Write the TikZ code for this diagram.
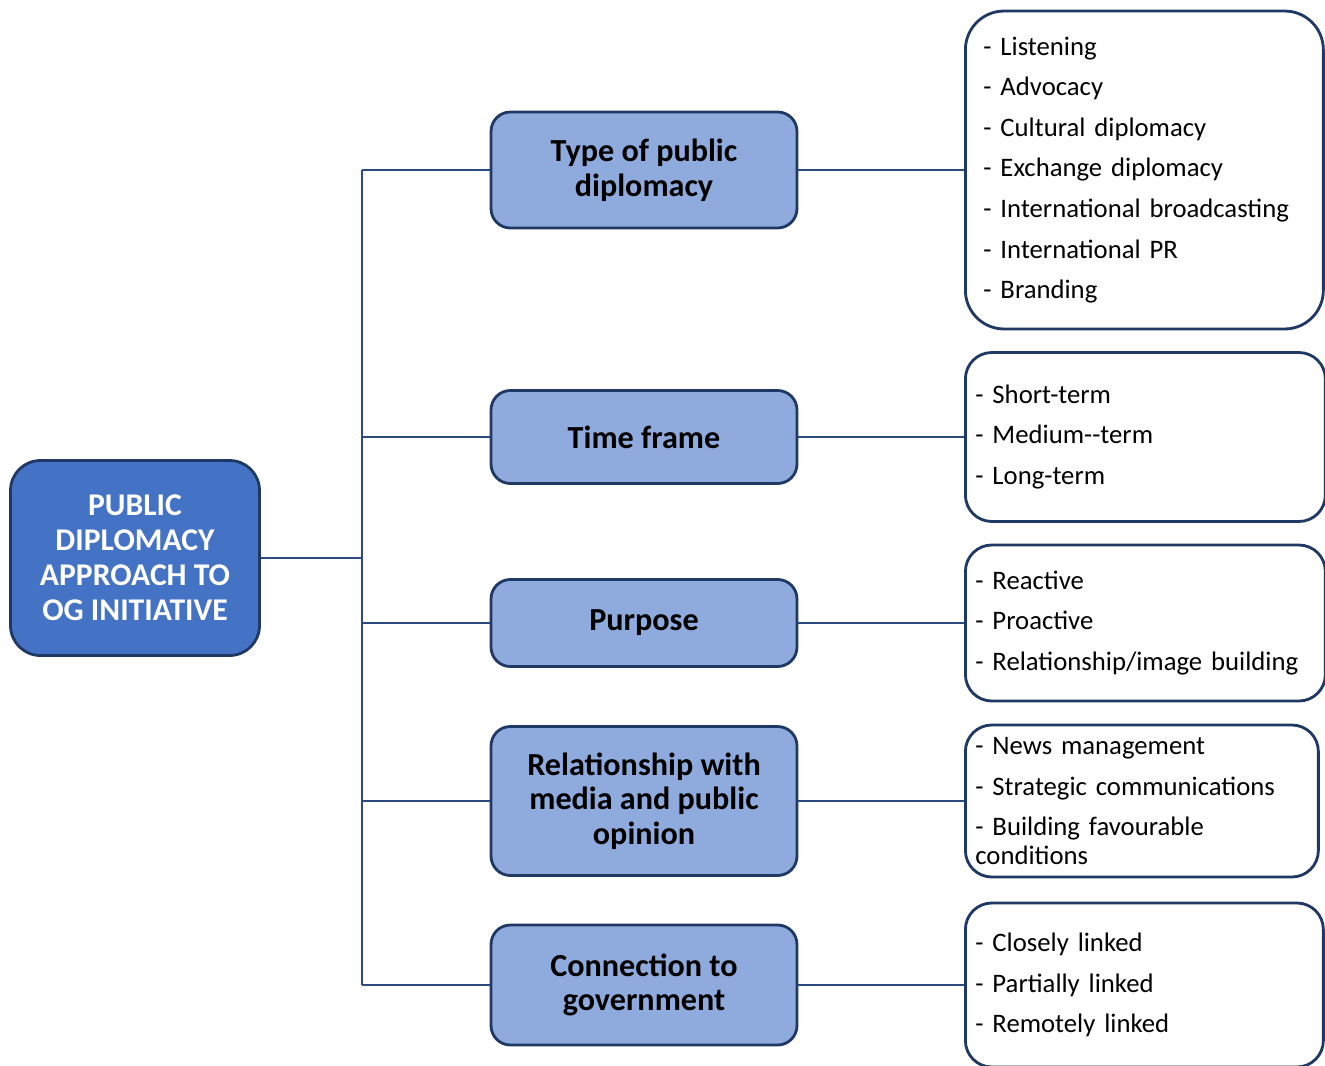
\documentclass[tikz,border=0pt]{standalone}
\usepackage{fontspec}
\setmainfont{Carlito}
\usetikzlibrary{positioning, calc}
\definecolor{root}{HTML}{4472C4}
\definecolor{cat}{HTML}{8FAADC}
\definecolor{edge}{HTML}{203864}
\definecolor{link}{HTML}{2B4A7E}

\begin{document}
\begin{tikzpicture}[
    x=0.02cm, y=-0.02cm,
    line width=1.6pt,
    rootbox/.style={
        draw=edge,
        fill=root,
        rounded corners=17pt,
        align=center,
        text=white,
        font=\fontsize{18}{20}\selectfont\bfseries,
        minimum width=4.98cm,
        minimum height=3.9cm
    },
    catbox/.style={
        draw=edge,
        fill=cat,
        rounded corners=11pt,
        align=center,
        font=\fontsize{18.3}{19.8}\selectfont\bfseries,
        minimum width=6.12cm
    },
    listbox/.style={
        draw=edge,
        fill=white,
        rounded corners=15pt,
        anchor=west,
        align=left,
        inner xsep=0.2cm,
        font=\fontsize{15.2}{16.4}\selectfont
    },
    wire/.style={draw=link}
]
\useasboundingbox (0,0) rectangle (1325,1065);

\node[rootbox] (R) at (135,558) {PUBLIC\\DIPLOMACY\\APPROACH TO\\OG INITIATIVE};

\node[catbox, minimum height=2.32cm] (C1) at (644,170) {Type of public\\diplomacy};
\node[catbox, minimum height=1.86cm] (C2) at (644,437) {Time frame};
\node[catbox, minimum height=1.74cm] (C3) at (644,623) {Purpose};
\node[catbox, minimum height=2.98cm] (C4) at (644,801) {Relationship with\\media and public\\opinion};
\node[catbox, minimum height=2.4cm] (C5) at (644,985) {Connection to\\government};

\node[listbox, rounded corners=22pt, inner xsep=0.36cm, text width=6.44cm, minimum width=7.16cm, minimum height=6.36cm] (L1) at (964,170)
    {- Listening\\[6.7pt] - Advocacy\\[6.7pt] - Cultural diplomacy\\[6.7pt] - Exchange diplomacy\\[6.7pt] - International broadcasting\\[6.7pt] - International PR\\[6.7pt] - Branding};
\node[listbox, text width=6.8cm, minimum width=7.2cm, minimum height=3.38cm] (L2) at (964,437)
    {- Short-term\\[6.7pt] - Medium-{}-term\\[6.7pt] - Long-term};
\node[listbox, text width=6.8cm, minimum width=7.2cm, minimum height=3.12cm] (L3) at (964,623)
    {- Reactive\\[6.7pt] - Proactive\\[6.7pt] - Relationship/image building};
\node[listbox, text width=6.66cm, minimum width=7.06cm, minimum height=3.04cm] (L4) at (964,801)
    {- News management\\[6.7pt] - Strategic communications\\[6.7pt] - Building favourable\\conditions};
\node[listbox, text width=6.76cm, minimum width=7.16cm, minimum height=3.28cm] (L5) at (964,985)
    {- Closely linked\\[6.7pt] - Partially linked\\[6.7pt] - Remotely linked};

% trunk
\coordinate (T0) at (362,558);
\coordinate (T1) at (362,170);
\coordinate (T5) at (362,985);

\draw[wire] (R.east) -- (T0);
\draw[wire] (T1) -- (T5);
\foreach \c in {C1,C2,C3,C4,C5}
    \draw[wire] (\c.west -| T0) -- (\c.west);

\draw[wire] (C1.east) -- (L1.west);
\draw[wire] (C2.east) -- (L2.west);
\draw[wire] (C3.east) -- (L3.west);
\draw[wire] (C4.east) -- (L4.west);
\draw[wire] (C5.east) -- (L5.west);

\end{tikzpicture}
\end{document}
